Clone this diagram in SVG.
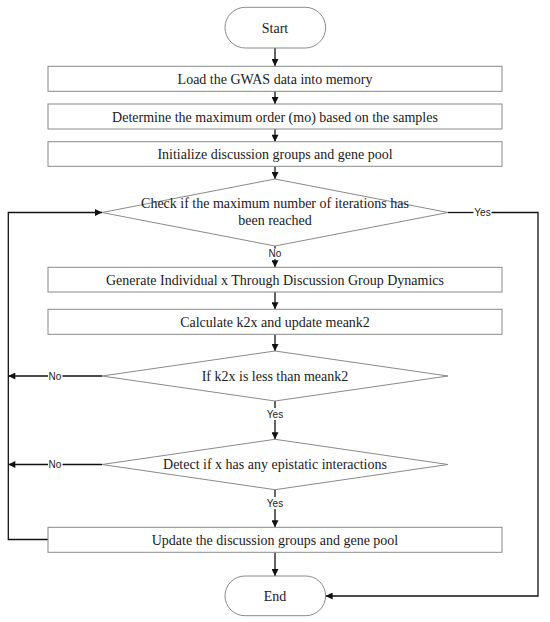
<svg xmlns="http://www.w3.org/2000/svg" width="550" height="622" viewBox="0 0 550 622">
<style>
.box{fill:#fff;stroke:#8a8a8a;stroke-width:1}
.term{fill:#fff;stroke:#8a8a8a;stroke-width:1}
.dia{fill:#fff;stroke:#8a8a8a;stroke-width:1}
.t{font-family:"Liberation Serif","Times New Roman",serif;font-size:14px;fill:#1a1a1a;text-anchor:middle}
.lbl{font-family:"Liberation Sans",Arial,sans-serif;font-size:10px;fill:#1a1a1a;text-anchor:middle}
.c{fill:none;stroke:#111;stroke-width:1.3}
</style>
<defs>
<marker id="ah" viewBox="0 0 10 10" refX="10" refY="5" markerWidth="8" markerHeight="7" markerUnits="userSpaceOnUse" orient="auto">
<path d="M0,0 L10,5 L0,10 z" fill="#111"/>
</marker>
</defs>
<rect width="550" height="622" fill="#fff"/>

<g id="connectors">
<path class="c" d="M275,48 V66" marker-end="url(#ah)"/>
<path class="c" d="M275,91.3 V104" marker-end="url(#ah)"/>
<path class="c" d="M275,129 V141.7" marker-end="url(#ah)"/>
<path class="c" d="M275,166.3 V179" marker-end="url(#ah)"/>
<path class="c" d="M275,246 V248.5"/>
<path class="c" d="M275,259 V267.3" marker-end="url(#ah)"/>
<path class="c" d="M275,292 V309.3" marker-end="url(#ah)"/>
<path class="c" d="M275,334.3 V351" marker-end="url(#ah)"/>
<path class="c" d="M275,401 V408"/>
<path class="c" d="M275,420 V439.3" marker-end="url(#ah)"/>
<path class="c" d="M275,489.7 V497"/>
<path class="c" d="M275,509 V527.3" marker-end="url(#ah)"/>
<path class="c" d="M275,552.3 V576" marker-end="url(#ah)"/>
<path class="c" d="M102,376 H62.5"/>
<path class="c" d="M48,376 H8.3" marker-end="url(#ah)"/>
<path class="c" d="M102,464.5 H62.5"/>
<path class="c" d="M48,464.5 H8.3" marker-end="url(#ah)"/>
<path class="c" d="M48,539.5 H8.3 V212.5 H102" marker-end="url(#ah)"/>
<path class="c" d="M448,212.5 H473.5"/>
<path class="c" d="M491.5,212.5 H538 V596 H325.6" marker-end="url(#ah)"/>
<text class="lbl" x="275" y="257">No</text>
<text class="lbl" x="275" y="417.5">Yes</text>
<text class="lbl" x="275" y="507">Yes</text>
<text class="lbl" x="55" y="379.5">No</text>
<text class="lbl" x="55" y="468">No</text>
<text class="lbl" x="482.5" y="215.5">Yes</text>
</g>

<g id="start">
<rect class="term" x="225" y="7.3" width="100.6" height="40.7" rx="20.3"/>
<text class="t" x="275" y="32.5">Start</text>
</g>
<g id="load">
<rect class="box" x="48" y="66.3" width="454" height="25"/>
<text class="t" x="275" y="84">Load the GWAS data into memory</text>
</g>
<g id="determine">
<rect class="box" x="48" y="104" width="454" height="25"/>
<text class="t" x="275" y="121.5">Determine the maximum order (mo) based on the samples</text>
</g>
<g id="init">
<rect class="box" x="48" y="141.7" width="454" height="24.6"/>
<text class="t" x="275" y="159">Initialize discussion groups and gene pool</text>
</g>
<g id="check">
<polygon class="dia" points="275,179 448,212.5 275,246 102,212.5"/>
<text class="t" x="275" y="208">Check if the maximum number of iterations has</text>
<text class="t" x="275" y="225">been reached</text>
</g>
<g id="generate">
<rect class="box" x="48" y="267.3" width="454" height="24.7"/>
<text class="t" x="275" y="284.7">Generate Individual x Through Discussion Group Dynamics</text>
</g>
<g id="calc">
<rect class="box" x="48" y="309.3" width="454" height="25"/>
<text class="t" x="275" y="326.8">Calculate k2x and update meank2</text>
</g>
<g id="ifless">
<polygon class="dia" points="275,351 448,376 275,401 102,376"/>
<text class="t" x="275" y="380.5">If k2x is less than meank2</text>
</g>
<g id="detect">
<polygon class="dia" points="275,439.3 448,464.5 275,489.7 102,464.5"/>
<text class="t" x="275" y="469">Detect if x has any epistatic interactions</text>
</g>
<g id="update">
<rect class="box" x="48" y="527.3" width="454" height="25"/>
<text class="t" x="275" y="544.8">Update the discussion groups and gene pool</text>
</g>
<g id="end">
<rect class="term" x="225" y="576" width="100.6" height="39.7" rx="19.8"/>
<text class="t" x="275" y="600.8">End</text>
</g>
</svg>
